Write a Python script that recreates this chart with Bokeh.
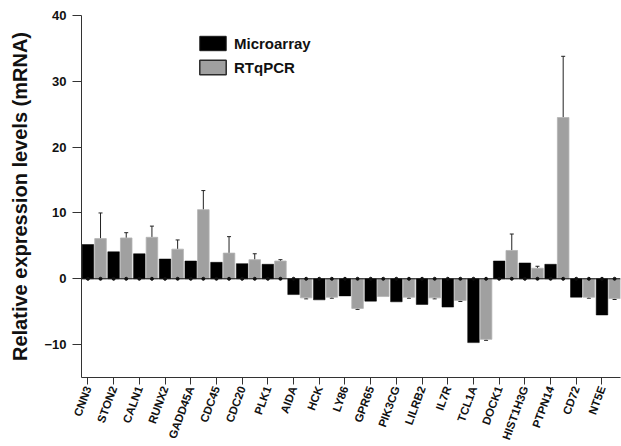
from bokeh.plotting import figure
from bokeh.models import (ColumnDataSource, Range1d, FixedTicker, Whisker, TeeHead,
                          Span, Legend, LegendItem)
from bokeh.embed import file_html
from bokeh.resources import INLINE
import math

# ---------------- data ----------------
genes = ["CNN3", "STON2", "CALN1", "RUNX2", "GADD45A", "CDC45", "CDC20", "PLK1",
         "AIDA", "HCK", "LY86", "GPR65", "PIK3CG", "LILRB2", "IL7R", "TCL1A",
         "DOCK1", "HIST1H3G", "PTPN14", "CD72", "NT5E"]
microarray = [5.2, 4.1, 3.8, 3.0, 2.7, 2.5, 2.3, 2.2, -2.4, -3.2, -2.6, -3.4, -3.5,
              -3.9, -4.3, -9.7, 2.7, 2.4, 2.2, -2.8, -5.5]
rtqpcr = [6.1, 6.2, 6.3, 4.5, 10.5, 3.9, 2.9, 2.7, -2.9, -2.8, -4.5, -2.7, -2.8,
          -2.9, -3.3, -9.2, 4.3, 1.6, 24.5, -2.8, -3.0]
rtqpcr_err = [3.9, 0.8, 1.7, 1.4, 2.9, 2.5, 0.9, 0.2, 0.15, 0.15, 0.15, 0.0, 0.15,
              0.15, 0.15, 0.15, 2.5, 0.3, 9.3, 0.15, 0.15]
y_ticks = [-10, 0, 10, 20, 30, 40]
series_names = ["Microarray", "RTqPCR"]

FONT = "Liberation Sans"
BLACK = "#000000"
GRAY = "#a0a0a0"
OFFSET = 0.49
BAR_W = 0.45

idx = list(range(len(genes)))
x_gray = [i + OFFSET for i in idx]

src_black = ColumnDataSource(dict(x=idx, top=microarray))
src_gray = ColumnDataSource(dict(x=x_gray, top=rtqpcr))

pos = [(x, v, e) for x, v, e in zip(x_gray, rtqpcr, rtqpcr_err) if v > 0 and e > 0]
neg = [(x, v, e) for x, v, e in zip(x_gray, rtqpcr, rtqpcr_err) if v < 0 and e > 0]
src_pos = ColumnDataSource(dict(x=[a[0] for a in pos], lower=[a[1] for a in pos],
                                upper=[a[1] + a[2] for a in pos]))
src_neg = ColumnDataSource(dict(x=[a[0] for a in neg], upper=[a[1] for a in neg],
                                lower=[a[1] - a[2] for a in neg]))
src_dots = ColumnDataSource(dict(x=idx + x_gray, y=[0] * (2 * len(idx))))

p = figure(width=621, height=446, output_backend="svg", toolbar_location=None,
           x_range=Range1d(-0.25, 20.72), y_range=Range1d(-15, 40),
           min_border_left=81, min_border_top=15, min_border_right=1,
           min_border_bottom=60)
p.outline_line_color = None
p.xgrid.visible = False
p.ygrid.visible = False
p.background_fill_color = "white"

p.vbar(x="x", top="top", bottom=0, width=BAR_W, source=src_black,
       fill_color=BLACK, line_color=BLACK, line_width=0.5)
p.vbar(x="x", top="top", bottom=0, width=BAR_W, source=src_gray,
       fill_color=GRAY, line_color="#b4b4b4", line_width=0.8)

# hidden copies used only for the legend swatches (dark outline as in the original)
lr1 = p.vbar(x="x", top="top", bottom=0, width=BAR_W, source=src_black,
             fill_color=BLACK, line_color="#1a1a1a", line_width=1, visible=False)
lr2 = p.vbar(x="x", top="top", bottom=0, width=BAR_W, source=src_gray,
             fill_color=GRAY, line_color="#2a2a2a", line_width=1.5, visible=False)

p.add_layout(Span(location=0, dimension="width", line_color="#111111", line_width=1))
p.scatter(x="x", y="y", source=src_dots, size=3, color="#111111", marker="circle")

p.add_layout(Whisker(base="x", lower="lower", upper="upper", source=src_pos,
                     dimension="height", line_color="#222222", line_width=1,
                     upper_head=TeeHead(size=4, line_color="#222222", line_width=1),
                     lower_head=None))
p.add_layout(Whisker(base="x", lower="lower", upper="upper", source=src_neg,
                     dimension="height", line_color="#222222", line_width=1,
                     lower_head=TeeHead(size=4, line_color="#222222", line_width=1),
                     upper_head=None))

legend = Legend(items=[LegendItem(label=series_names[0], renderers=[lr1]),
                       LegendItem(label=series_names[1], renderers=[lr2])],
                location=(115, 301), orientation="vertical",
                glyph_width=33, glyph_height=18, label_height=18, spacing=6,
                padding=0, margin=0, label_standoff=5,
                border_line_color=None, background_fill_alpha=0,
                inactive_fill_alpha=0,
                label_text_font=FONT, label_text_font_style="bold",
                label_text_font_size="15px", label_text_color="#111111")
p.add_layout(legend)

# axes
xa = p.xaxis[0]
xa.ticker = FixedTicker(ticks=idx)
xa.major_label_overrides = {i: g for i, g in zip(idx, genes)}
xa.major_label_orientation = math.radians(70)
xa.major_label_text_font = FONT
xa.major_label_text_font_style = "bold"
xa.major_label_text_font_size = "11.5px"
xa.major_label_text_color = "#111111"
xa.major_label_standoff = 2
xa.major_tick_in = 0
xa.major_tick_out = 7
xa.minor_tick_line_color = None
xa.axis_line_color = "#333333"
xa.major_tick_line_color = "#333333"

ya = p.yaxis[0]
ya.ticker = FixedTicker(ticks=y_ticks)
ya.major_label_text_font = FONT
ya.major_label_text_font_style = "bold"
ya.major_label_text_font_size = "13px"
ya.major_label_text_color = "#111111"
ya.major_label_standoff = 6
ya.major_tick_in = 0
ya.major_tick_out = 9
ya.minor_tick_line_color = None
ya.axis_line_color = "#333333"
ya.major_tick_line_color = "#333333"
ya.axis_label = "Relative expression levels (mRNA)"
ya.axis_label_text_font = FONT
ya.axis_label_text_font_style = "bold"
ya.axis_label_text_font_size = "20px"
ya.axis_label_text_color = "#111111"
ya.axis_label_standoff = 10

open("out.html", "w").write(file_html(p, INLINE))
